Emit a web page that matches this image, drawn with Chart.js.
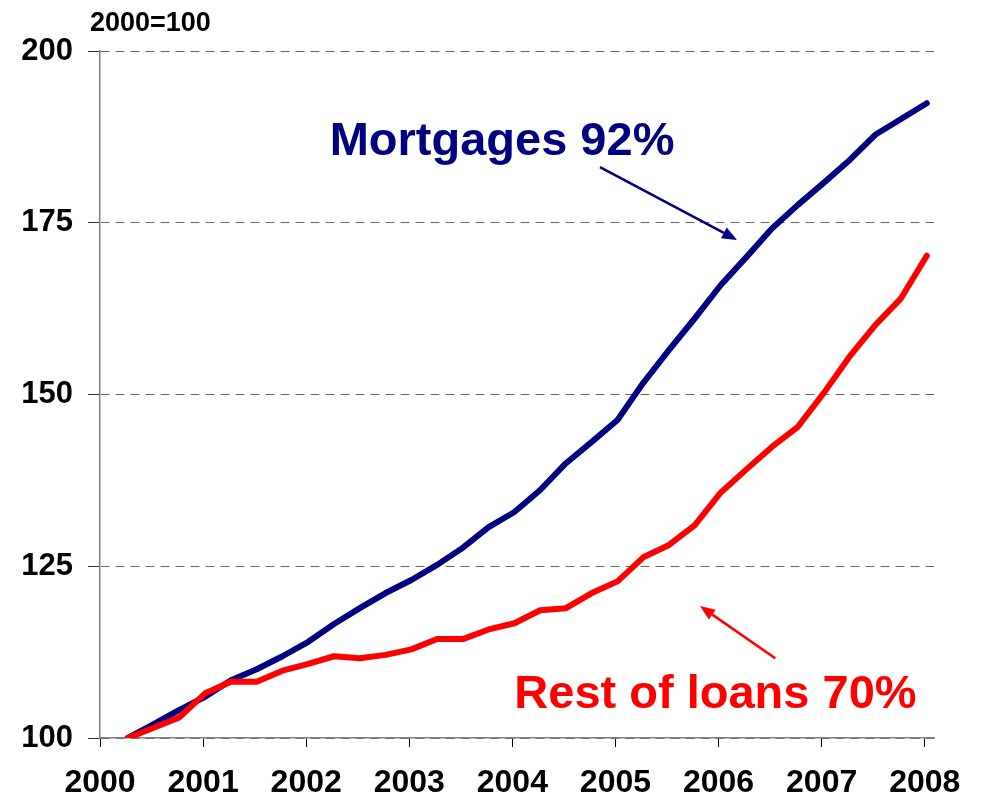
<!DOCTYPE html>
<html>
<head>
<meta charset="utf-8">
<script src="https://cdn.jsdelivr.net/npm/chart.js@4"></script>
<style>
  html, body { margin: 0; padding: 0; background: #fff; }
  #wrap { width: 981px; height: 800px; }
</style>
</head>
<body>
<div id="wrap"><canvas id="chart" width="981" height="800"></canvas></div>
<script>
// quarterly observations, index 2000 = 100
const quarters = [
  2000.27, 2000.52, 2000.77, 2001.02, 2001.27, 2001.52, 2001.77, 2002.02,
  2002.27, 2002.52, 2002.77, 2003.02, 2003.27, 2003.52, 2003.77, 2004.02,
  2004.27, 2004.52, 2004.77, 2005.02, 2005.27, 2005.52, 2005.77, 2006.02,
  2006.27, 2006.52, 2006.77, 2007.02, 2007.27, 2007.52, 2007.77, 2008.02
];
const mortgages = [
  100, 102, 104.1, 106, 108.4, 110, 111.9, 114,
  116.6, 118.9, 121.1, 123, 125.2, 127.7, 130.7, 132.9,
  136.1, 140, 143.1, 146.3, 151.7, 156.5, 161.1, 165.9,
  170, 174.2, 177.6, 180.8, 184.1, 187.8, 190.1, 192.4
];
const restOfLoans = [
  100, 101.5, 103, 106.5, 108.2, 108.2, 109.8, 110.8,
  111.9, 111.6, 112.1, 112.9, 114.4, 114.4, 115.8, 116.7,
  118.6, 118.9, 121.1, 122.8, 126.3, 128.1, 131, 135.7,
  139.1, 142.4, 145.3, 150.2, 155.5, 160.1, 164, 170.2
];
const years = [2000, 2001, 2002, 2003, 2004, 2005, 2006, 2007, 2008];
const yTicks = [100, 125, 150, 175, 200];

const NAVY = '#000080';
const RED = '#ff0000';
const FONT = '"Liberation Sans", Arial, sans-serif';

// callouts in data coordinates
const callouts = [
  { text: 'Mortgages 92%', color: NAVY, x: 2003.9, y: 184.9,
    arrow: [2004.85, 183.1, 2006.18, 172.5] },
  { text: 'Rest of loans 70%', color: RED, x: 2005.97, y: 104.4,
    arrow: [2006.55, 111.6, 2005.82, 119.2] }
];

const pts = vals => quarters.map((q, i) => ({ x: q, y: vals[i] }));

function drawArrow(ctx, x1, y1, x2, y2, color) {
  const ang = Math.atan2(y2 - y1, x2 - x1);
  const head = 15, half = 6;
  ctx.save();
  ctx.strokeStyle = color;
  ctx.fillStyle = color;
  ctx.lineWidth = 2.5;
  ctx.beginPath();
  ctx.moveTo(x1, y1);
  ctx.lineTo(x2 - head * Math.cos(ang), y2 - head * Math.sin(ang));
  ctx.stroke();
  ctx.beginPath();
  ctx.moveTo(x2, y2);
  ctx.lineTo(x2 - head * Math.cos(ang) + half * Math.sin(ang), y2 - head * Math.sin(ang) - half * Math.cos(ang));
  ctx.lineTo(x2 - head * Math.cos(ang) - half * Math.sin(ang), y2 - head * Math.sin(ang) + half * Math.cos(ang));
  ctx.closePath();
  ctx.fill();
  ctx.restore();
}

const calloutPlugin = {
  id: 'callouts',
  afterDatasetsDraw(chart) {
    const { ctx, scales: { x, y }, chartArea } = chart;
    ctx.save();
    // unit label above the y axis
    ctx.font = 'bold 27px ' + FONT;
    ctx.fillStyle = '#000';
    ctx.textAlign = 'left';
    ctx.textBaseline = 'alphabetic';
    ctx.fillText('2000=100', chartArea.left - 10, 31);

    ctx.font = 'bold 47px ' + FONT;
    ctx.textAlign = 'center';
    callouts.forEach(c => {
      ctx.fillStyle = c.color;
      ctx.fillText(c.text, x.getPixelForValue(c.x), y.getPixelForValue(c.y));
      const a = c.arrow;
      drawArrow(ctx, x.getPixelForValue(a[0]), y.getPixelForValue(a[1]),
        x.getPixelForValue(a[2]), y.getPixelForValue(a[3]), c.color);
    });
    ctx.restore();
  }
};

new Chart(document.getElementById('chart').getContext('2d'), {
  type: 'line',
  data: {
    datasets: [
      {
        label: 'Mortgages',
        data: pts(mortgages),
        borderColor: NAVY,
        borderWidth: 6,
        order: 1
      },
      {
        label: 'Rest of loans',
        data: pts(restOfLoans),
        borderColor: RED,
        borderWidth: 6,
        order: 0
      }
    ]
  },
  options: {
    responsive: false,
    animation: false,
    layout: { padding: { top: 51, right: 47, left: 0, bottom: 0 } },
    elements: {
      point: { radius: 0 },
      line: { tension: 0, borderCapStyle: 'round', borderJoinStyle: 'round' }
    },
    scales: {
      x: {
        type: 'linear',
        min: 2000,
        max: 2008.09,
        afterBuildTicks: s => { s.ticks = years.map(v => ({ value: v })); },
        afterFit: s => { s.height = 62; },
        border: { color: '#808080', width: 1.5 },
        grid: { drawOnChartArea: false, drawTicks: true, tickLength: 9, tickColor: '#000', tickWidth: 1 },
        ticks: {
          color: '#000',
          font: { family: FONT, size: 32, weight: 'bold' },
          padding: 17,
          maxRotation: 0,
          autoSkip: false,
          callback: v => String(v)
        }
      },
      y: {
        min: 100,
        max: 200,
        afterBuildTicks: s => { s.ticks = yTicks.map(v => ({ value: v })); },
        afterFit: s => { s.width = 100; },
        border: { color: '#808080', width: 1.5, dash: [9, 6] },
        grid: { color: '#666', lineWidth: 1, tickLength: 12, tickColor: '#333', tickBorderDash: [] },
        ticks: {
          color: '#000',
          font: { family: FONT, size: 31, weight: 'bold' },
          padding: 15,
          callback: v => String(v)
        }
      }
    },
    plugins: {
      legend: { display: false },
      tooltip: { enabled: false }
    }
  },
  plugins: [calloutPlugin]
});
</script>
</body>
</html>
